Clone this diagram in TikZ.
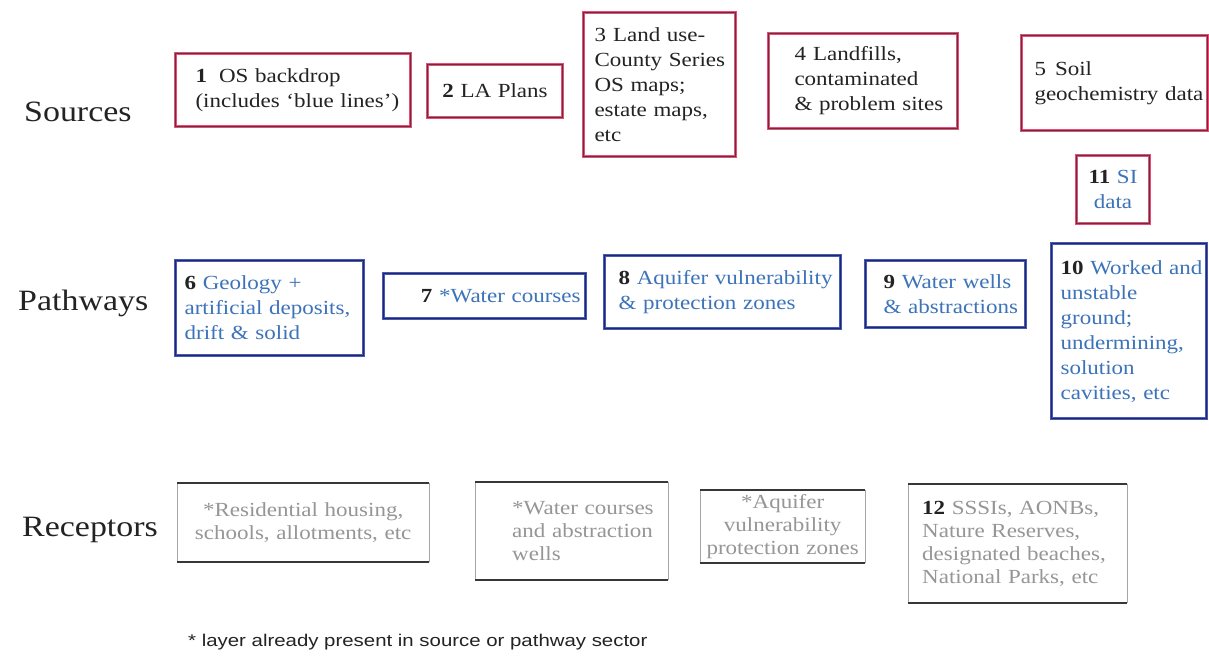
\documentclass[tikz,border=0pt]{standalone}
\usepackage{fontspec}
\setmainfont{Liberation Serif}[FakeStretch=1.15]
\newfontfamily\notefont{Liberation Sans}[FakeStretch=1.2]
\definecolor{srcpink}{RGB}{226,80,120}
\definecolor{srcdark}{RGB}{110,45,60}
\definecolor{pathblue}{RGB}{70,90,190}
\definecolor{pathdark}{RGB}{35,40,100}
\definecolor{txtblue}{RGB}{60,115,185}
\definecolor{txtdark}{RGB}{35,35,35}
\definecolor{rectxt}{RGB}{150,150,150}
\definecolor{recline}{RGB}{55,55,55}
\newcommand{\mkbox}[8]{%
  \pgfmathsetmacro{\bw}{#5-#3}%
  \pgfmathsetmacro{\bh}{#6-#4}%
  \pgfmathsetmacro{\tw}{#5-#3-2*#7}%
  \node[#1, anchor=north west, minimum width=\bw pt, minimum height=\bh pt,
        inner xsep=#7pt, inner ysep=2pt, text width=\tw pt] (#2) at (#3,#4) {#8};}
\tikzset{
  nohyph/.style={execute at begin node={\hyphenpenalty=10000\exhyphenpenalty=10000\hbadness=10000\hfuzz=100pt}},
  srcbox/.style={nohyph, draw=srcdark, line width=1pt,
    preaction={draw=srcpink, line width=3pt},
    text=txtdark, font=\fontsize{20}{25}\selectfont},
  pathbox/.style={nohyph, draw=pathdark, line width=1.2pt,
    preaction={draw=pathblue, line width=3pt},
    text=txtblue, font=\fontsize{20}{25}\selectfont},
  recbox/.style={nohyph, draw=none, text=rectxt, font=\fontsize{20}{23}\selectfont},
  rside/.style={draw=gray!70, line width=0.8pt},
  rtop/.style={draw=recline, line width=2pt},
  rowlabel/.style={anchor=west, inner sep=0pt, text=txtdark, font=\fontsize{29.5}{34}\selectfont},
  notelabel/.style={anchor=west, inner sep=0pt, text=txtdark, font=\notefont\fontsize{17}{20}\selectfont}
}
\begin{document}
\begin{tikzpicture}[x=1pt,y=-1pt]
\fill[white] (0,0) rectangle (1209,657);
\useasboundingbox (0,0) rectangle (1209,657);

% row labels
\node[rowlabel] (lsrc) at (24,112) {Sources};
\node[rowlabel] (lpath) at (18,303) {Pathways};
\node[rowlabel] (lrec) at (22,530) {Receptors};

% sources
\mkbox{srcbox, align=left}{s1}{175}{53}{410}{126}{20}{\textbf{1}\hspace{12pt}OS~backdrop\\(includes~`blue~lines')}
\mkbox{srcbox, align=center}{s2}{427}{64}{562}{117}{8}{\textbf{2}~LA~Plans}
\mkbox{srcbox, align=left}{s3}{583}{12}{735}{156}{11}{3\hspace{7pt}Land~use-\\County~Series\\OS~maps;\\estate~maps,\\etc}
\mkbox{srcbox, align=left}{s4}{768}{33}{957}{128}{26}{4\hspace{7pt}Landfills,\\contaminated\\\&~problem~sites}
\mkbox{srcbox, align=left}{s5}{1021}{35}{1207}{130}{13}{5\hspace{9pt}Soil\\geochemistry~data}
\mkbox{srcbox, align=center}{s11}{1076}{155}{1149}{223}{4}{\textbf{11}~{\color{txtblue}SI}\\{\color{txtblue}data}}

% pathways
\mkbox{pathbox, align=left}{p6}{175}{260}{363}{355}{9}{{\color{txtdark}\textbf{6}}~Geology~+\\artificial~deposits,\\drift~\&~solid}
\mkbox{pathbox, align=right}{p7}{383}{273}{585}{318}{5}{{\color{txtdark}\textbf{7}}~*Water~courses}
\mkbox{pathbox, align=left}{p8}{604}{255}{840}{328}{14}{{\color{txtdark}\textbf{8}}~Aquifer~vulnerability\\\&~protection~zones}
\mkbox{pathbox, align=left}{p9}{865}{260}{1025}{327}{18}{{\color{txtdark}\textbf{9}}~Water~wells\\\&~abstractions}
\mkbox{pathbox, align=left}{p10}{1051}{243}{1206}{418}{9}{{\color{txtdark}\textbf{10}}~Worked~and\\unstable\\ground;\\undermining,\\solution\\cavities,~etc}

% receptors
\mkbox{recbox, align=center}{r1}{177}{483}{429}{562}{10}{*Residential~housing,\\schools,~allotments,~etc}
\mkbox{recbox, align=left}{r2}{475}{482}{668}{580}{37}{*Water~courses\\and~abstraction\\wells}
\mkbox{recbox, align=center}{r3}{700}{490}{865}{563}{4}{*Aquifer\\vulnerability\\protection~zones}
\mkbox{recbox, align=left}{r4}{908}{484}{1127}{603}{14}{{\color{txtdark}\textbf{12}}~SSSIs,~AONBs,\\Nature~Reserves,\\designated~beaches,\\National~Parks,~etc}
\foreach \n in {r1,r2,r3,r4}{
  \draw[rside] (\n.north west) -- (\n.south west) (\n.north east) -- (\n.south east);
  \draw[rtop] (\n.north west) -- (\n.north east) (\n.south west) -- (\n.south east);
}

% footnote
\node[notelabel] (note) at (188,642) {* layer already present in source or pathway sector};
\end{tikzpicture}
\end{document}
